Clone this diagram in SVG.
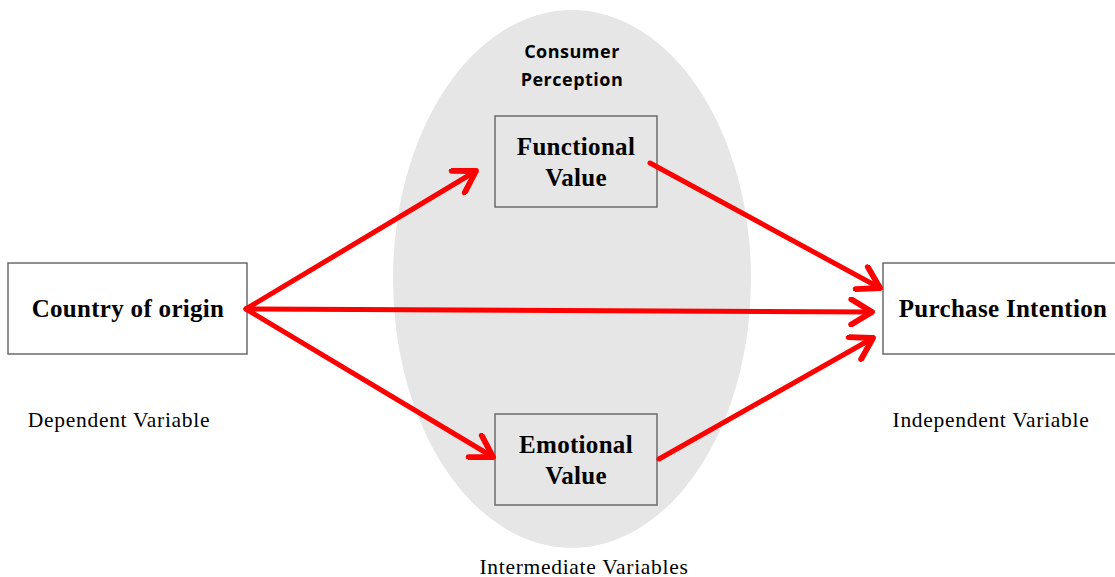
<svg xmlns="http://www.w3.org/2000/svg" width="1115" height="577" viewBox="0 0 1115 577">
  <style>
    .box { fill: #ffffff; stroke: #6b6b6b; stroke-width: 1.5; }
    .boxin { fill: #e6e6e6; stroke: #6b6b6b; stroke-width: 1.5; }
    .title { font-family: "Liberation Serif", "Times New Roman", serif; font-weight: bold; font-size: 25px; letter-spacing: 0.3px; fill: #000; text-anchor: middle; }
    .note { font-family: "Liberation Serif", "Times New Roman", serif; font-size: 21.5px; letter-spacing: 0.7px; fill: #000; text-anchor: middle; }
    .group { font-family: "Open Sans", "Liberation Sans", sans-serif; font-weight: bold; font-size: 18px; letter-spacing: 0.5px; fill: #000; text-anchor: middle; }
    .link { stroke: #ff0000; stroke-width: 5; fill: none; stroke-linecap: round; }
  </style>
  <defs>
    <marker id="head" markerUnits="userSpaceOnUse" markerWidth="30" markerHeight="30" viewBox="-22 -13 26 26" refX="0" refY="0" orient="auto">
      <path d="M -18 -11 L 0 0 L -18 11" fill="none" stroke="#ff0000" stroke-width="5" stroke-linecap="round" stroke-linejoin="round"/>
    </marker>
  </defs>

  <!-- shaded region for the mediating variables -->
  <g id="perception">
    <ellipse cx="572" cy="279" rx="179" ry="269" fill="#e6e6e6"/>
    <text class="group" x="572" y="58">Consumer</text>
    <text class="group" x="572" y="86">Perception</text>
  </g>

  <g id="country">
    <rect class="box" x="8" y="263" width="239" height="91"/>
    <text class="title" x="128" y="317">Country of origin</text>
  </g>

  <g id="purchase">
    <rect class="box" x="883" y="263" width="240" height="91"/>
    <text class="title" x="1003" y="317">Purchase Intention</text>
  </g>

  <g id="functional">
    <rect class="boxin" x="495" y="116" width="162" height="91"/>
    <text class="title" x="576" y="155">Functional</text>
    <text class="title" x="576" y="186">Value</text>
  </g>

  <g id="emotional">
    <rect class="boxin" x="495" y="414" width="162" height="91"/>
    <text class="title" x="576" y="453">Emotional</text>
    <text class="title" x="576" y="484">Value</text>
  </g>

  <g id="labels">
    <text class="note" x="119" y="427">Dependent Variable</text>
    <text class="note" x="991" y="427">Independent Variable</text>
    <text class="note" x="584" y="574">Intermediate Variables</text>
  </g>

  <g id="connectors">
    <line class="link" x1="246" y1="309" x2="476" y2="171" marker-end="url(#head)"/>
    <line class="link" x1="246" y1="309" x2="872" y2="312" marker-end="url(#head)"/>
    <line class="link" x1="246" y1="309" x2="493" y2="457" marker-end="url(#head)"/>
    <line class="link" x1="650" y1="163" x2="880" y2="288" marker-end="url(#head)"/>
    <line class="link" x1="659" y1="459" x2="873" y2="338" marker-end="url(#head)"/>
  </g>
</svg>
